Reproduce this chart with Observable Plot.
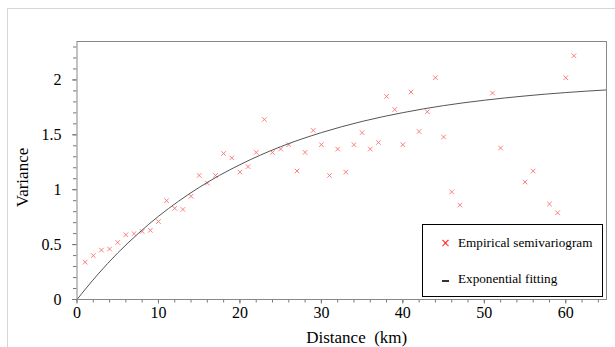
<!DOCTYPE html>
<html>
<head>
<meta charset="utf-8">
<script src="https://cdn.jsdelivr.net/npm/d3@7"></script>
<script src="https://cdn.jsdelivr.net/npm/@observablehq/plot@0.6"></script>
<style>
  html, body { margin: 0; padding: 0; background: #fff; font-family: 'Liberation Serif', serif; }
  #wrap { position: relative; width: 615px; height: 347px; overflow: hidden; }
  #outer { position: absolute; left: 7px; top: 8px; width: 620px; height: 360px;
           border-top: 1px solid #d6d6d6; border-left: 1px solid #d6d6d6; }
  #legend { position: absolute; left: 421.5px; top: 224px; width: 179px; height: 71px;
            border: 1px solid #000; background: #fff;
            font-family: 'Liberation Serif', serif; font-size: 13.2px; color: #000; }
  .row { position: absolute; left: 0; white-space: nowrap; }
  .sym { position: absolute; left: 18px; width: 10px; text-align: center; }
  .lab { position: absolute; left: 35.5px; }
  #chart { position: absolute; left: 0; top: 0; }
</style>
</head>
<body>
<div id="wrap">
  <div id="outer"></div>
  <div id="chart"></div>
  <div id="legend">
    <div class="row" style="top:10px;">
      <span class="sym" style="color:#ff2020;font-family:'DejaVu Sans',sans-serif;font-size:12px;top:1px;">×</span>
      <span class="lab">Empirical semivariogram</span>
    </div>
    <div class="row" style="top:46px;">
      <span class="sym" style="top:9px;"><span style="display:inline-block;width:7px;height:1.5px;background:#333;vertical-align:top;"></span></span>
      <span class="lab">Exponential fitting</span>
    </div>
  </div>
</div>
<script>
// Empirical semivariogram (distance in km, variance)
const distances = [1,2,3,4,5,6,7,8,9,10,11,12,13,14,15,16,17,18,19,20,21,22,23,24,25,26,27,28,29,30,31,32,33,34,35,36,37,38,39,40,41,42,43,44,45,46,47,51,52,53,54,55,56,57,58,59,60,61];
const variances = [0.34,0.40,0.45,0.46,0.52,0.59,0.60,0.62,0.63,0.71,0.90,0.83,0.82,0.94,1.13,1.06,1.13,1.33,1.29,1.16,1.21,1.34,1.64,1.34,1.37,1.41,1.17,1.34,1.54,1.41,1.13,1.37,1.16,1.41,1.52,1.37,1.43,1.85,1.73,1.41,1.89,1.53,1.71,2.02,1.48,0.98,0.86,1.88,1.38,0.66,0.66,1.07,1.17,0.66,0.87,0.79,2.02,2.22];

// Exponential fitting curve
const fitDistances = [0,2.5,5,7.5,10,12.5,15,17.5,20,25,30,35,40,45,50,55,60,65];
const fitVariances = [0,0.224,0.424,0.600,0.758,0.897,1.021,1.131,1.228,1.392,1.520,1.622,1.702,1.766,1.815,1.854,1.885,1.909];

// Tick values
const xMajorTicks = [0,10,20,30,40,50,60];
const xMinorTicks = d3.range(0, 66, 2);
const yMajorTicks = [0,0.5,1,1.5,2];
const yMinorTicks = d3.range(0, 24).map(i => +(i / 10).toFixed(1));
const yTickLabels = ["0","0.5","1","1.5","2"];

const points = distances.map((d, i) => ({d, v: variances[i]}));
const fit = fitDistances.map((d, i) => ({d, v: fitVariances[i]}));

const font = "Liberation Serif";

const chart = Plot.plot({
  width: 615,
  height: 347,
  marginLeft: 76.5,
  marginRight: 9,
  marginTop: 41,
  marginBottom: 48,
  style: {fontFamily: font, fontSize: "16px", background: "transparent", color: "#000"},
  x: {domain: [0, 65]},
  y: {domain: [0, 2.35]},
  marks: [
    Plot.axisX({ticks: xMinorTicks, tickSize: 3.5, text: null, stroke: "#777", label: null}),
    Plot.axisX({ticks: xMajorTicks, tickSize: 4.5, tickPadding: 3, stroke: "#777", fill: "#000", fontSize: 16, fontFamily: font, label: null}),
    Plot.axisY({ticks: yMinorTicks, tickSize: 3.5, text: null, stroke: "#777", label: null}),
    Plot.axisY({ticks: yMajorTicks, tickSize: 4.5, tickPadding: 11, stroke: "#777", fill: "#000", fontSize: 16, fontFamily: font,
                tickFormat: (t) => yTickLabels[yMajorTicks.indexOf(t)], label: null}),
    Plot.dot(points, {x: "d", y: "v", symbol: "times", r: 2.2, stroke: "#ff7070", strokeWidth: 1, strokeOpacity: 0.9}),
    Plot.line(fit, {x: "d", y: "v", curve: "monotone-x", stroke: "#555", strokeWidth: 1}),
    Plot.frame({stroke: "#888", strokeWidth: 1}),
    Plot.text(["Variance"], {frameAnchor: "left", textAnchor: "middle", lineAnchor: "middle", dx: -54, dy: 7, rotate: -90, fontSize: 17, fontFamily: font, fill: "#000"}),
    Plot.text(["Distance\u00a0\u00a0(km)"], {frameAnchor: "bottom", textAnchor: "middle", lineAnchor: "middle", dx: 15, dy: 38, fontSize: 17, fontFamily: font, fill: "#000"})
  ]
});
document.getElementById("chart").appendChild(chart);
</script>
</body>
</html>
